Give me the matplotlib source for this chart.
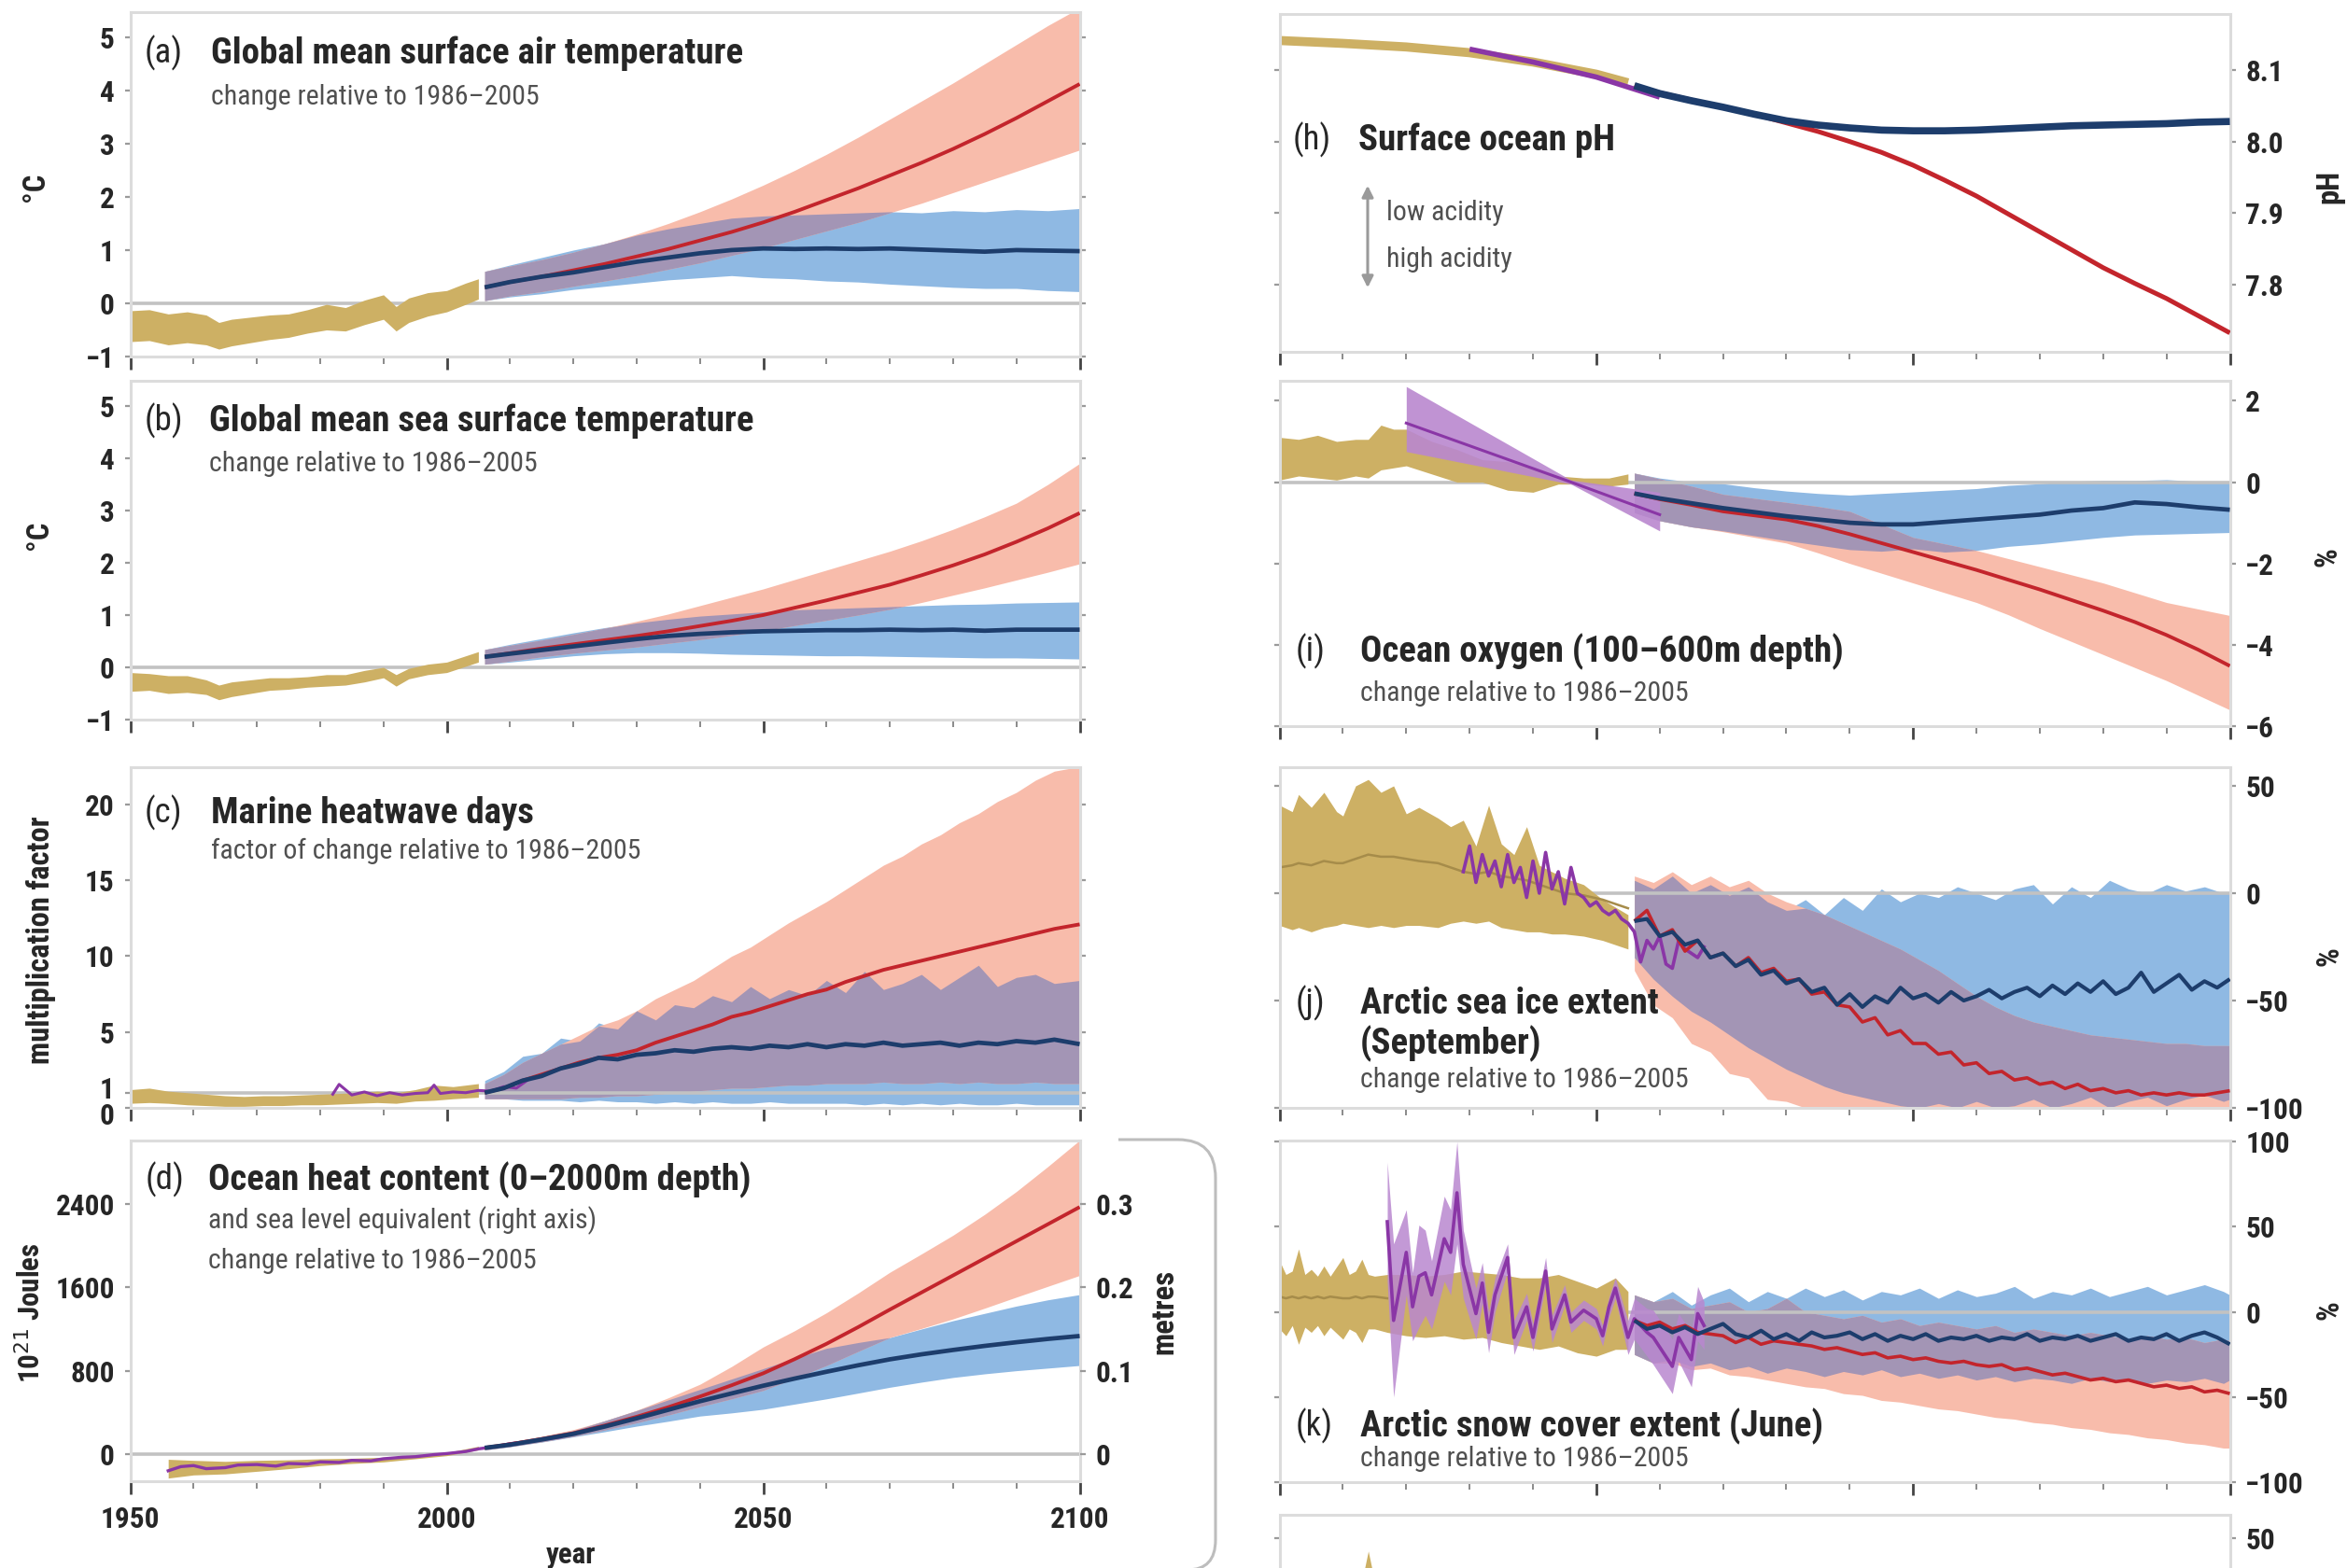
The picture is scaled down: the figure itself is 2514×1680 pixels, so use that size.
import numpy as np
import matplotlib
matplotlib.use("Agg")
import matplotlib.pyplot as plt
from matplotlib import font_manager as fm
from matplotlib.patches import PathPatch, FancyArrowPatch
from matplotlib.path import Path
from matplotlib.ticker import MultipleLocator
from matplotlib.transforms import ScaledTranslation


def choose_font():
    entries = fm.fontManager.ttflist
    names = {f.name for f in entries}
    for n, w in [('Liberation Sans Narrow', 0.76), ('Roboto Condensed', 0.75),
                 ('Open Sans Condensed', 0.78), ('Noto Sans Condensed', 0.80),
                 ('DejaVu Sans Condensed', 0.88)]:
        if n in names:
            return n, 'normal', w
    for n, w in [('Roboto', 0.75), ('Noto Sans', 0.80), ('Open Sans', 0.80), ('DejaVu Sans', 0.88)]:
        for f in entries:
            if f.name == n and f.stretch in ('condensed', 'semi-condensed', 'extra-condensed'):
                return n, f.stretch, w
    return 'DejaVu Sans', 'normal', 1.0


FONT, STRETCH, WF = choose_font()
plt.rcParams['font.family'] = [FONT, 'DejaVu Sans']
plt.rcParams['font.stretch'] = STRETCH
if WF <= 0.8:
    TITLE_SIZE, SUB_SIZE, YLAB_SIZE, TICK_SIZE = 28.0, 21.5, 23.5, 22.5
elif WF < 0.95:
    TITLE_SIZE, SUB_SIZE, YLAB_SIZE, TICK_SIZE = 24.0, 19.5, 21.0, 21.0
else:
    TITLE_SIZE, SUB_SIZE, YLAB_SIZE, TICK_SIZE = 20.0, 18.0, 17.6, 20.0

# ---------------------------------------------------------------- data
P = [2006, 2010, 2015, 2020, 2025, 2030, 2035, 2040, 2045, 2050,
     2055, 2060, 2065, 2070, 2075, 2080, 2085, 2090, 2095, 2100]

# (a) global mean surface air temperature (deg C)
a_obs_years = [1950, 1953, 1956, 1959, 1962, 1964, 1966, 1969, 1972, 1975, 1978,
               1981, 1984, 1987, 1990, 1992, 1994, 1997, 2000, 2003, 2005]
a_obs_lo = [-0.72, -0.70, -0.78, -0.74, -0.78, -0.86, -0.80, -0.74, -0.68, -0.64, -0.56,
            -0.50, -0.52, -0.40, -0.30, -0.52, -0.36, -0.24, -0.16, -0.02, 0.08]
a_obs_hi = [-0.14, -0.12, -0.20, -0.16, -0.22, -0.36, -0.30, -0.26, -0.22, -0.20, -0.12,
            -0.02, -0.08, 0.06, 0.16, -0.06, 0.10, 0.20, 0.24, 0.38, 0.46]
a_rcp26_mid = [0.30, 0.40, 0.50, 0.58, 0.68, 0.78, 0.86, 0.94, 1.00, 1.03,
               1.02, 1.03, 1.02, 1.03, 1.01, 0.99, 0.97, 1.00, 0.99, 0.98]
a_rcp26_lo = [0.05, 0.12, 0.18, 0.26, 0.32, 0.38, 0.44, 0.48, 0.52, 0.48,
              0.46, 0.42, 0.40, 0.36, 0.33, 0.30, 0.28, 0.28, 0.24, 0.22]
a_rcp26_hi = [0.60, 0.72, 0.86, 1.00, 1.12, 1.28, 1.40, 1.50, 1.60, 1.64,
              1.66, 1.68, 1.70, 1.72, 1.70, 1.74, 1.72, 1.76, 1.74, 1.78]
a_rcp85_mid = [0.30, 0.40, 0.50, 0.62, 0.74, 0.88, 1.02, 1.18, 1.34, 1.52,
               1.72, 1.94, 2.16, 2.40, 2.64, 2.90, 3.18, 3.48, 3.80, 4.12]
a_rcp85_lo = [0.05, 0.14, 0.22, 0.32, 0.42, 0.52, 0.64, 0.76, 0.90, 1.04,
              1.20, 1.36, 1.52, 1.70, 1.88, 2.08, 2.28, 2.48, 2.68, 2.88]
a_rcp85_hi = [0.60, 0.70, 0.82, 0.96, 1.12, 1.30, 1.50, 1.72, 1.96, 2.22,
              2.50, 2.80, 3.12, 3.46, 3.80, 4.14, 4.50, 4.86, 5.22, 5.55]

# (b) global mean sea surface temperature (deg C)
b_obs_years = a_obs_years
b_obs_lo = [-0.46, -0.44, -0.50, -0.48, -0.52, -0.62, -0.56, -0.50, -0.44, -0.42, -0.38,
            -0.36, -0.34, -0.28, -0.20, -0.36, -0.22, -0.14, -0.10, 0.02, 0.10]
b_obs_hi = [-0.10, -0.12, -0.16, -0.16, -0.24, -0.34, -0.28, -0.24, -0.20, -0.20, -0.18,
            -0.14, -0.14, -0.06, 0.00, -0.14, -0.02, 0.06, 0.10, 0.22, 0.30]
b_rcp26_mid = [0.20, 0.26, 0.33, 0.40, 0.47, 0.54, 0.60, 0.64, 0.67, 0.69,
               0.70, 0.71, 0.71, 0.72, 0.71, 0.72, 0.70, 0.72, 0.72, 0.72]
b_rcp26_lo = [0.06, 0.10, 0.16, 0.22, 0.26, 0.28, 0.28, 0.27, 0.25, 0.24,
              0.23, 0.22, 0.22, 0.21, 0.20, 0.19, 0.18, 0.18, 0.17, 0.16]
b_rcp26_hi = [0.34, 0.44, 0.55, 0.66, 0.76, 0.85, 0.92, 0.98, 1.02, 1.06,
              1.10, 1.12, 1.14, 1.16, 1.18, 1.20, 1.21, 1.23, 1.24, 1.25]
b_rcp85_mid = [0.20, 0.27, 0.36, 0.44, 0.52, 0.60, 0.69, 0.79, 0.89, 1.00,
               1.14, 1.28, 1.43, 1.58, 1.76, 1.95, 2.16, 2.40, 2.66, 2.95]
b_rcp85_lo = [0.06, 0.12, 0.20, 0.27, 0.33, 0.39, 0.46, 0.53, 0.61, 0.70,
              0.80, 0.90, 1.00, 1.11, 1.24, 1.38, 1.52, 1.67, 1.82, 1.98]
b_rcp85_hi = [0.34, 0.42, 0.52, 0.63, 0.75, 0.88, 1.02, 1.18, 1.34, 1.50,
              1.68, 1.86, 2.04, 2.22, 2.42, 2.64, 2.88, 3.14, 3.50, 3.90]

# (c) marine heatwave days (multiplication factor)
c_obs_years = [1950, 1953, 1956, 1959, 1962, 1965, 1968, 1971, 1974, 1977,
               1980, 1983, 1986, 1989, 1992, 1995, 1998, 2001, 2005]
c_obs_lo = [0.3, 0.35, 0.3, 0.2, 0.15, 0.1, 0.1, 0.15, 0.15, 0.2,
            0.2, 0.25, 0.3, 0.35, 0.3, 0.45, 0.5, 0.6, 0.7]
c_obs_hi = [1.2, 1.3, 1.1, 1.0, 0.9, 0.8, 0.75, 0.8, 0.8, 0.85,
            0.9, 0.95, 1.0, 1.1, 1.0, 1.2, 1.5, 1.4, 1.6]
c_pur_years = [1982, 1983, 1985, 1987, 1989, 1991, 1993, 1995, 1997, 1998,
               1999, 2001, 2003, 2005, 2007, 2009, 2011, 2013]
c_pur_vals = [0.9, 1.55, 0.85, 1.05, 0.8, 1.0, 0.85, 0.95, 1.0, 1.5,
              0.95, 1.05, 1.0, 1.15, 1.1, 1.4, 1.3, 1.9]
c_years = [2006, 2009, 2012, 2015, 2018, 2021, 2024, 2027, 2030, 2033, 2036,
           2039, 2042, 2045, 2048, 2051, 2054, 2057, 2060, 2063, 2066, 2069,
           2072, 2075, 2078, 2081, 2084, 2087, 2090, 2093, 2096, 2100]
c_rcp26_mid = [1.0, 1.3, 1.8, 2.1, 2.6, 2.9, 3.3, 3.2, 3.5, 3.6,
               3.8, 3.7, 3.9, 4.0, 3.9, 4.1, 4.0, 4.2, 4.0, 4.2,
               4.1, 4.3, 4.1, 4.2, 4.3, 4.1, 4.3, 4.2, 4.4, 4.3, 4.5, 4.2]
c_rcp26_lo = [0.6, 0.6, 0.5, 0.5, 0.5, 0.4, 0.5, 0.4, 0.4, 0.3,
              0.4, 0.3, 0.4, 0.3, 0.3, 0.4, 0.3, 0.3, 0.3, 0.3,
              0.2, 0.3, 0.2, 0.3, 0.2, 0.3, 0.2, 0.2, 0.3, 0.2, 0.2, 0.2]
c_rcp26_hi = [1.8, 2.4, 3.4, 3.6, 4.6, 4.4, 5.6, 5.2, 6.4, 5.8,
              6.8, 6.6, 7.4, 7.0, 8.0, 7.2, 7.8, 7.4, 8.4, 7.6,
              9.0, 7.8, 8.2, 8.8, 7.8, 8.6, 9.4, 8.0, 8.6, 8.8, 8.2, 8.4]
c_rcp85_mid = [1.0, 1.3, 1.8, 2.2, 2.6, 3.0, 3.3, 3.5, 3.8, 4.3,
               4.7, 5.1, 5.5, 6.0, 6.3, 6.7, 7.1, 7.5, 7.8, 8.3,
               8.7, 9.1, 9.4, 9.7, 10.0, 10.3, 10.6, 10.9, 11.2, 11.5, 11.8, 12.1]
c_rcp85_lo = [0.6, 0.6, 0.6, 0.6, 0.6, 0.7, 0.7, 0.8, 0.8, 0.9,
              1.0, 1.1, 1.2, 1.3, 1.3, 1.4, 1.5, 1.5, 1.6, 1.6,
              1.6, 1.7, 1.6, 1.6, 1.7, 1.6, 1.7, 1.6, 1.6, 1.7, 1.6, 1.6]
c_rcp85_hi = [1.6, 2.2, 3.0, 3.6, 4.2, 4.8, 5.4, 5.8, 6.4, 7.2,
              7.8, 8.4, 9.2, 10.0, 10.6, 11.4, 12.2, 12.9, 13.6, 14.4,
              15.2, 16.0, 16.6, 17.4, 18.0, 18.8, 19.4, 20.2, 20.8, 21.6, 22.2, 22.5]

# (d) ocean heat content 0-2000 m (10^21 J)
d_obs_years = [1956, 1960, 1965, 1970, 1975, 1980, 1985, 1990, 1995, 2000, 2005]
d_obs_lo = [-230, -200, -190, -165, -140, -110, -90, -75, -45, -15, 40]
d_obs_hi = [-50, -60, -70, -60, -55, -45, -40, -30, -10, 15, 75]
d_pur_years = [1956, 1958, 1960, 1962, 1965, 1967, 1970, 1973, 1975, 1978, 1980, 1983, 1985,
               1988, 1990, 1993, 1995, 1998, 2000, 2003, 2005, 2008, 2010, 2013, 2015, 2018]
d_pur_vals = [-160, -120, -110, -140, -130, -105, -100, -115, -90, -95, -75, -80, -60,
              -65, -45, -30, -25, -5, 5, 25, 50, 75, 100, 120, 140, 165]
d_rcp26_mid = [60, 90, 140, 194, 265, 343, 425, 507, 582, 656,
               725, 790, 852, 909, 957, 999, 1038, 1073, 1105, 1133]
d_rcp26_lo = [40, 70, 115, 165, 215, 268, 315, 365, 395, 430,
              480, 530, 585, 641, 690, 735, 770, 800, 825, 850]
d_rcp26_hi = [80, 110, 165, 225, 320, 417, 520, 620, 720, 820,
              920, 1015, 1070, 1118, 1200, 1280, 1350, 1420, 1480, 1530]
d_rcp85_mid = [60, 95, 145, 200, 275, 358, 450, 552, 660, 775,
               912, 1058, 1218, 1386, 1550, 1714, 1878, 2042, 2206, 2370]
d_rcp85_lo = [40, 72, 118, 170, 232, 300, 375, 455, 530, 611,
              728, 850, 985, 1118, 1205, 1297, 1400, 1506, 1610, 1714]
d_rcp85_hi = [80, 115, 170, 235, 320, 420, 540, 670, 840, 1028,
              1185, 1356, 1545, 1744, 1920, 2100, 2300, 2519, 2760, 3011]
d_joules_per_metre = 8000.0

# (h) surface ocean pH
h_obs_years = [1950, 1960, 1970, 1980, 1990, 2000, 2005]
h_obs_vals = [8.141, 8.137, 8.132, 8.124, 8.111, 8.094, 8.082]
h_pur_years = [1980, 1990, 2000, 2010]
h_pur_vals = [8.129, 8.111, 8.090, 8.062]
h_rcp26_mid = [8.078, 8.067, 8.057, 8.048, 8.038, 8.029, 8.023, 8.019, 8.016, 8.015,
               8.015, 8.016, 8.018, 8.020, 8.022, 8.023, 8.024, 8.025, 8.027, 8.028]
h_rcp85_mid = [8.078, 8.068, 8.058, 8.048, 8.038, 8.026, 8.014, 8.000, 7.985, 7.967,
               7.946, 7.924, 7.899, 7.874, 7.849, 7.824, 7.802, 7.781, 7.757, 7.733]

# (i) ocean oxygen 100-600 m (%)
i_obs_years = [1950, 1953, 1956, 1959, 1962, 1964, 1966, 1968, 1970,
               1974, 1978, 1982, 1986, 1990, 1994, 1998, 2002, 2005]
i_obs_lo = [0.05, 0.15, 0.10, 0.05, 0.15, 0.10, 0.30, 0.35, 0.40,
            0.20, 0.0, 0.0, -0.20, -0.25, -0.05, -0.05, -0.10, -0.05]
i_obs_hi = [1.10, 1.05, 1.15, 1.00, 1.05, 1.05, 1.40, 1.30, 1.30,
            1.00, 0.80, 0.55, 0.50, 0.35, 0.15, 0.10, 0.10, 0.20]
i_pur_years = [1970, 1996, 2010]
i_pur_mid = [1.45, 0.0, -0.80]
i_pur_lo = [0.75, -0.05, -1.20]
i_pur_hi = [2.35, 0.05, -0.25]
i_rcp26_mid = [-0.28, -0.40, -0.52, -0.64, -0.74, -0.84, -0.92, -1.00, -1.04, -1.04,
               -0.98, -0.92, -0.86, -0.80, -0.70, -0.64, -0.50, -0.54, -0.62, -0.68]
i_rcp26_lo = [-0.75, -0.95, -1.10, -1.20, -1.32, -1.44, -1.55, -1.66, -1.70, -1.64,
              -1.72, -1.68, -1.58, -1.52, -1.44, -1.36, -1.30, -1.28, -1.26, -1.24]
i_rcp26_hi = [0.22, 0.10, 0.0, -0.04, -0.14, -0.22, -0.28, -0.32, -0.28, -0.24,
              -0.20, -0.16, -0.08, -0.04, 0.02, 0.04, 0.04, 0.06, 0.02, 0.0]
i_rcp85_mid = [-0.28, -0.42, -0.56, -0.72, -0.82, -0.92, -1.08, -1.28, -1.50, -1.72,
               -1.94, -2.16, -2.40, -2.64, -2.90, -3.16, -3.44, -3.76, -4.12, -4.52]
i_rcp85_lo = [-0.75, -0.95, -1.10, -1.22, -1.36, -1.50, -1.74, -2.00, -2.24, -2.48,
              -2.72, -2.96, -3.26, -3.60, -3.92, -4.24, -4.56, -4.88, -5.24, -5.60]
i_rcp85_hi = [0.22, 0.08, -0.10, -0.30, -0.40, -0.50, -0.60, -0.72, -1.04, -1.36,
              -1.52, -1.68, -1.88, -2.08, -2.28, -2.48, -2.72, -2.96, -3.12, -3.28]

# (j) Arctic sea ice extent, September (%)
j_obs_years = [1950, 1952, 1953, 1955, 1957, 1959, 1960, 1962, 1964, 1966, 1968, 1970, 1972, 1975,
               1977, 1979, 1981, 1983, 1985, 1987, 1989, 1991, 1993, 1995, 1998, 2001, 2005]
j_obs_hi = [41, 38, 46, 40, 47, 38, 36, 50, 53, 47, 50, 37, 40, 35,
            31, 34, 22, 41, 23, 18, 31, 13, 10, 7, 4, -3, -10]
j_obs_lo = [-15, -17, -16, -18, -16, -15, -14, -15, -16, -15, -16, -15, -15, -16,
            -14, -13, -14, -13, -16, -17, -18, -18, -19, -19, -20, -22, -26]
j_obs_mid = [12, 13, 14, 13, 15, 14, 14, 16, 18, 17, 17, 16, 15, 14,
             12, 10, 9, 10, 8, 7, 6, 4, 2, 0, -1, -3, -7]
j_pur_years = [1979, 1980, 1981, 1982, 1983, 1984, 1985, 1986, 1987, 1988, 1989, 1990, 1991,
               1992, 1993, 1994, 1995, 1996, 1997, 1998, 1999, 2000, 2001, 2002, 2003, 2004,
               2005, 2006, 2007, 2008, 2009, 2010, 2011, 2012, 2013, 2014, 2015, 2016, 2017]
j_pur_vals = [10, 22, 5, 18, 8, 15, 3, 18, 5, 12, -2, 15, 0,
              19, 2, 10, -5, 12, 0, -2, -6, -4, -8, -10, -8, -12,
              -14, -18, -32, -22, -26, -20, -33, -35, -22, -26, -28, -30, -25]
j_line_years = list(range(2006, 2101, 2))
j_rcp85_mid = [-13, -8, -20, -17, -27, -22, -30, -28, -34, -30, -37, -35, -41, -40, -47, -46,
               -52, -53, -60, -58, -66, -64, -70, -70, -75, -74, -80, -79, -84, -83, -87, -86,
               -89, -88, -91, -89, -92, -91, -93, -92, -94, -93, -94, -93, -94, -94, -93, -92]
j_rcp26_mid = [-13, -12, -20, -18, -24, -22, -30, -28, -34, -31, -38, -36, -42, -40, -46, -44,
               -52, -47, -53, -48, -51, -44, -49, -47, -51, -46, -50, -48, -45, -49, -46, -44,
               -48, -43, -47, -42, -46, -41, -47, -44, -37, -46, -42, -38, -45, -41, -44, -40]
j_band_years = list(range(2006, 2100, 3)) + [2100]
j_rcp26_hi = [6, 2, 8, 0, 4, -1, 3, -4, -8, -3, -10, -2, -8, 2, -4, 0, -2, 3, 0, -3,
              2, 4, -5, 3, -2, 6, 2, 0, 4, 1, 3, 0, 0]
j_rcp26_lo = [-30, -40, -48, -55, -60, -66, -72, -77, -82, -86, -90, -93, -95, -97, -99, -100,
              -98, -100, -97, -100, -99, -96, -100, -98, -95, -100, -97, -95, -99, -96, -94, -97, -96]
j_rcp85_hi = [8, 5, 10, 4, 8, 3, 6, 0, -4, -7, -10, -14, -18, -22, -26, -31,
              -36, -42, -48, -53, -57, -60, -62, -64, -66, -67, -68, -69, -70, -70, -71, -71, -71]
j_rcp85_lo = [-36, -52, -58, -70, -74, -84, -86, -96, -97, -100, -100, -100, -100, -100, -100,
              -100, -100, -100, -100, -100, -100, -100, -100, -100, -100, -100, -100, -100,
              -100, -100, -100, -100, -100]

# (k) Arctic snow cover extent, June (%)
k_obs_years = [1950, 1951, 1952, 1953, 1954, 1955, 1956, 1957, 1958, 1960, 1961, 1962, 1963, 1964,
               1965, 1967, 1970, 1973, 1976, 1979, 1982, 1985, 1988, 1991, 1994, 1997, 2000, 2003, 2005]
k_obs_hi = [30, 22, 24, 37, 22, 25, 21, 27, 21, 32, 22, 24, 31, 22,
            21, 22, 22, 21, 22, 24, 23, 22, 20, 20, 22, 18, 14, 20, 12]
k_obs_lo = [-10, -14, -8, -19, -9, -12, -8, -14, -9, -16, -10, -12, -18, -10,
            -10, -12, -14, -15, -14, -16, -15, -18, -20, -22, -20, -24, -26, -22, -22]
k_obs_mid = [9, 8, 9, 8, 9, 8, 9, 8, 9, 8, 8, 9, 8, 9,
             9, 8, 7, 6, 5, 4, 3, 2, 1, 0, -1, -2, -3, -3, -4]
k_pur_years = [1967, 1968, 1970, 1971, 1972, 1973, 1974, 1976, 1977, 1978, 1979, 1981, 1982,
               1983, 1984, 1986, 1987, 1989, 1990, 1992, 1993, 1995, 1996, 1998, 2000, 2001,
               2002, 2003, 2005, 2006, 2008, 2009, 2012, 2013, 2015, 2016, 2017]
k_pur_vals = [53, -5, 35, 3, 21, 23, 10, 43, 35, 70, 28, -1, 17,
              -12, 10, 32, -15, 3, -15, 24, -10, 10, -6, 1, -4, -14,
              3, 14, -15, -4, -12, -15, -32, -15, -28, -1, -8]
k_pur_halfwidth = [35, 45, 25, 20, 30, 25, 20, 25, 25, 30, 20, 15, 12,
                   12, 10, 8, 10, 8, 8, 8, 8, 6, 6, 6, 6, 6,
                   6, 6, 10, 12, 14, 16, 16, 14, 16, 16, 14]
k_line_years = list(range(2006, 2101, 2))
k_rcp26_mid = [-5, -10, -8, -12, -9, -13, -10, -7, -13, -15, -11, -16, -13, -17, -12, -15,
               -14, -12, -16, -13, -17, -14, -16, -13, -17, -15, -16, -14, -17, -15, -16, -13,
               -17, -15, -16, -14, -17, -15, -13, -17, -15, -16, -13, -17, -14, -12, -15, -19]
k_rcp85_mid = [-5, -8, -6, -10, -8, -12, -13, -14, -18, -15, -19, -17, -18, -19, -20, -22,
               -21, -23, -25, -24, -27, -26, -28, -27, -29, -30, -29, -31, -32, -31, -34, -33,
               -35, -37, -36, -38, -40, -39, -41, -40, -42, -44, -43, -45, -44, -47, -46, -48]
k_band_years = list(range(2006, 2100, 3)) + [2100]
k_rcp26_hi = [10, 6, 12, 4, 10, 14, 6, 12, 8, 14, 9, 13, 7, 12, 10, 14, 8, 13, 9, 11,
              15, 8, 12, 10, 14, 9, 12, 15, 10, 13, 16, 12, 10]
k_rcp26_lo = [-25, -30, -28, -32, -30, -34, -32, -36, -33, -35, -38, -35, -37, -34, -38, -36,
              -39, -37, -40, -38, -41, -39, -40, -42, -39, -41, -40, -42, -40, -41, -39, -42, -40]
k_rcp85_hi = [10, 6, 8, 2, 4, 6, 0, 2, 8, 0, -2, -4, -2, -6, -4, -8, -6, -8, -10, -8,
              -12, -10, -12, -14, -12, -14, -16, -14, -16, -15, -18, -16, -17]
k_rcp85_lo = [-25, -30, -30, -34, -33, -37, -38, -40, -42, -44, -45, -48, -49, -52, -53, -55,
              -57, -58, -60, -62, -63, -65, -66, -68, -69, -71, -72, -74, -75, -77, -78, -80, -80]

# (l) partially visible panel
l_obs_years = [1950, 1955, 1960, 1962, 1963, 1964, 1965, 1966, 1970]
l_obs_hi = [20, 22, 20, 24, 30, 44, 30, 22, 20]
l_obs_lo = [-20, -22, -20, -22, -20, -22, -20, -22, -20]

# ---------------------------------------------------------------- style
W, H = 2514, 1680
fig = plt.figure(figsize=(W / 100, H / 100), dpi=100)
fig.patch.set_facecolor('white')

C_TAN = '#CDB064'
C_TAN_LINE = '#A68C4A'
C_PUR = '#8A36A6'
C_PUR_BAND = '#B987CF'
C_RED = '#C3252C'
C_PINK = '#F8BCAB'
C_BLUE = '#1D3D6C'
C_LBLUE = '#8FB9E3'
C_MAUVE = '#A395B5'
C_ZERO = '#C2C2C2'
C_FRAME = '#DCDCDC'
C_TXT = '#262626'
C_SUB = '#505050'

LX0, LX1 = 139.5, 1156.5
RX0, RX1 = 1370.6, 2388.5


def add_ax(x0, x1, ytop, ybot):
    return fig.add_axes([x0 / W, 1 - ybot / H, (x1 - x0) / W, (ybot - ytop) / H])


def bold_labels(labels):
    for lab in labels:
        lab.set_fontweight('bold')


def style(ax, ylim, yticks, side, ylabels=None):
    ax.set_xlim(1950, 2100)
    ax.set_ylim(*ylim)
    ax.patch.set_alpha(0)
    for s in ax.spines.values():
        s.set_color(C_FRAME)
        s.set_linewidth(2.2)
    ax.set_xticks([1950, 2000, 2050, 2100])
    ax.xaxis.set_minor_locator(MultipleLocator(10))
    ax.tick_params(axis='x', which='major', direction='out', length=10, width=2,
                   color='#444444', labelbottom=False)
    ax.tick_params(axis='x', which='minor', direction='out', length=5.5, width=1.4,
                   color='#8a8a8a')
    ax.set_yticks(yticks)
    if ylabels is not None:
        ax.set_yticklabels(ylabels)
    ax.tick_params(axis='y', which='major', direction='out', length=4, width=1.6,
                   color='#9a9a9a', left=True, right=True,
                   labelleft=(side == 'left'), labelright=(side == 'right'),
                   labelsize=TICK_SIZE, labelcolor=C_TXT, pad=8)
    bold_labels(ax.get_yticklabels())


def proj_bands(ax, x, blo, bhi, rlo, rhi):
    x = np.asarray(x)
    blo, bhi, rlo, rhi = map(np.asarray, (blo, bhi, rlo, rhi))
    ax.fill_between(x, blo, bhi, color=C_LBLUE, lw=0, zorder=1)
    ax.fill_between(x, rlo, rhi, color=C_PINK, lw=0, zorder=1.1)
    olo = np.maximum(blo, rlo)
    ohi = np.minimum(bhi, rhi)
    ax.fill_between(x, olo, ohi, where=ohi > olo, interpolate=True,
                    color=C_MAUVE, lw=0, zorder=1.2)


def proj_lines(ax, x26, m26, x85, m85, lw26=3.4, lw85=2.8):
    ax.plot(x85, m85, color=C_RED, lw=lw85, zorder=4, solid_capstyle='butt')
    ax.plot(x26, m26, color=C_BLUE, lw=lw26, zorder=4.1, solid_capstyle='butt')


def zero(ax, y=0):
    ax.axhline(y, color=C_ZERO, lw=2.6, zorder=1.5)


def ftxt(x, y, s, size=24, weight='bold', color=C_TXT, **kw):
    kw.setdefault('ha', 'left')
    kw.setdefault('va', 'center')
    fig.text(x / W, 1 - y / H, s, fontsize=size, fontweight=weight, color=color, **kw)


def panel_title(xl, xt, y, letter, lines, sub_ys, subs):
    ftxt(xl, y, letter, size=TITLE_SIZE * 0.95, weight='normal')
    for k, line in enumerate(lines):
        ftxt(xt, y + k * 43, line, size=TITLE_SIZE)
    for yy, s in zip(sub_ys, subs):
        ftxt(xt, yy, s, size=SUB_SIZE, weight='normal', color=C_SUB)


def ylab(x, y, s, size=None):
    ftxt(x, y, s, size=size or YLAB_SIZE, rotation=90, ha='center')


# ---------------------------------------------------------------- (a)
ax = add_ax(LX0, LX1, 13, 382)
style(ax, (-1, 5.47), [-1, 0, 1, 2, 3, 4, 5], 'left',
      ['−1', '0', '1', '2', '3', '4', '5'])
zero(ax)
proj_bands(ax, P, a_rcp26_lo, a_rcp26_hi, a_rcp85_lo, a_rcp85_hi)
ax.fill_between(a_obs_years, a_obs_lo, a_obs_hi, color=C_TAN, lw=0, zorder=2)
proj_lines(ax, P, a_rcp26_mid, P, a_rcp85_mid)
panel_title(155, 226, 57, '(a)', ['Global mean surface air temperature'], [104],
            ['change relative to 1986–2005'])
ylab(38, 200, '°C')

# ---------------------------------------------------------------- (b)
ax = add_ax(LX0, LX1, 408, 771)
style(ax, (-1, 5.48), [-1, 0, 1, 2, 3, 4, 5], 'left',
      ['−1', '0', '1', '2', '3', '4', '5'])
zero(ax)
proj_bands(ax, P, b_rcp26_lo, b_rcp26_hi, b_rcp85_lo, b_rcp85_hi)
ax.fill_between(b_obs_years, b_obs_lo, b_obs_hi, color=C_TAN, lw=0, zorder=2)
proj_lines(ax, P, b_rcp26_mid, P, b_rcp85_mid)
panel_title(155, 224, 451, '(b)', ['Global mean sea surface temperature'], [497],
            ['change relative to 1986–2005'])
ylab(42, 573, '°C')

# ---------------------------------------------------------------- (c)
ax = add_ax(LX0, LX1, 822, 1187)
style(ax, (0, 22.46), [0, 1, 5, 10, 15, 20], 'left')
labs = ax.get_yticklabels()
labs[0].set_transform(labs[0].get_transform() + ScaledTranslation(0, -4 / 72, fig.dpi_scale_trans))
labs[1].set_transform(labs[1].get_transform() + ScaledTranslation(0, 4 / 72, fig.dpi_scale_trans))
zero(ax, 1)
proj_bands(ax, c_years, c_rcp26_lo, c_rcp26_hi, c_rcp85_lo, c_rcp85_hi)
ax.fill_between(c_obs_years, c_obs_lo, c_obs_hi, color=C_TAN, lw=0, zorder=2)
ax.plot(c_pur_years, c_pur_vals, color=C_PUR, lw=2.2, zorder=3)
proj_lines(ax, c_years, c_rcp26_mid, c_years, c_rcp85_mid)
panel_title(155, 226, 871, '(c)', ['Marine heatwave days'], [912],
            ['factor of change relative to 1986–2005'])
ylab(44, 1007, 'multiplication factor')

# ---------------------------------------------------------------- (d)
ax = add_ax(LX0, LX1, 1222, 1587)
style(ax, (-260, 3008), [0, 800, 1600, 2400], 'left')
zero(ax)
proj_bands(ax, P, d_rcp26_lo, d_rcp26_hi, d_rcp85_lo, d_rcp85_hi)
ax.fill_between(d_obs_years, d_obs_lo, d_obs_hi, color=C_TAN, lw=0, zorder=2)
ax.plot(d_pur_years, d_pur_vals, color=C_PUR, lw=2.4, zorder=3)
proj_lines(ax, P, d_rcp26_mid, P, d_rcp85_mid)
ax.tick_params(axis='x', which='major', labelbottom=True, labelsize=TICK_SIZE,
               labelcolor=C_TXT, pad=9)
bold_labels(ax.get_xticklabels())
ax2 = ax.twinx()
ax2.set_ylim(-260 / d_joules_per_metre, 3008 / d_joules_per_metre)
ax2.set_yticks([0, 0.1, 0.2, 0.3])
ax2.set_yticklabels(['0', '0.1', '0.2', '0.3'])
for s in ax2.spines.values():
    s.set_visible(False)
ax2.tick_params(axis='y', direction='out', length=4, width=1.6, color='#9a9a9a',
                labelsize=TICK_SIZE, labelcolor=C_TXT, pad=8)
bold_labels(ax2.get_yticklabels())
panel_title(156, 223, 1264, '(d)', ['Ocean heat content (0–2000m depth)'], [1308, 1351],
            ['and sea level equivalent (right axis)', 'change relative to 1986–2005'])
ylab(33, 1407, '10$^{21}$ Joules', size=YLAB_SIZE * 0.95)
ylab(1247, 1405, 'metres')
ftxt(611, 1666, 'year', size=YLAB_SIZE * 0.95, ha='center')

# bracket on the right of panel (d)
verts = [(1198, 1221), (1262, 1221), (1302, 1221), (1302, 1262), (1302, 1650),
         (1302, 1682), (1272, 1682)]
codes = [Path.MOVETO, Path.LINETO, Path.CURVE3, Path.CURVE3, Path.LINETO,
         Path.CURVE3, Path.CURVE3]
verts_f = [(vx / W, 1 - vy / H) for vx, vy in verts]
fig.add_artist(PathPatch(Path(verts_f, codes), facecolor='none', edgecolor='#BDBDBD',
                         lw=2.2, transform=fig.transFigure))

# ---------------------------------------------------------------- (h)
ax = add_ax(RX0, RX1, 15, 377)
style(ax, (7.7065, 8.178), [7.8, 7.9, 8.0, 8.1], 'right', ['7.8', '7.9', '8.0', '8.1'])
ax.plot(h_obs_years, h_obs_vals, color=C_TAN, lw=7, zorder=2, solid_capstyle='butt')
ax.plot(h_pur_years, h_pur_vals, color=C_PUR, lw=4, zorder=3, solid_capstyle='butt')
ax.plot(P, h_rcp85_mid, color=C_RED, lw=3.6, zorder=4, solid_capstyle='butt')
ax.plot(P, h_rcp26_mid, color=C_BLUE, lw=5.5, zorder=4.1, solid_capstyle='butt')
panel_title(1385, 1455, 150, '(h)', ['Surface ocean pH'], [], [])
ftxt(1485, 228, 'low acidity', size=SUB_SIZE, weight='normal', color=C_SUB)
ftxt(1485, 278, 'high acidity', size=SUB_SIZE, weight='normal', color=C_SUB)
fig.add_artist(FancyArrowPatch((1465 / W, 1 - 196 / H), (1465 / W, 1 - 311 / H),
                               arrowstyle='<|-|>', mutation_scale=18, color='#9a9a9a',
                               lw=2.2, transform=fig.transFigure))
ylab(2495, 200, 'pH')

# ---------------------------------------------------------------- (i)
ax = add_ax(RX0, RX1, 408, 778)
style(ax, (-6, 2.49), [-6, -4, -2, 0, 2], 'right', ['−6', '−4', '−2', '0', '2'])
zero(ax)
proj_bands(ax, P, i_rcp26_lo, i_rcp26_hi, i_rcp85_lo, i_rcp85_hi)
ax.fill_between(i_obs_years, i_obs_lo, i_obs_hi, color=C_TAN, lw=0, zorder=2)
ax.fill_between(i_pur_years, i_pur_lo, i_pur_hi, color=C_PUR_BAND, lw=0, zorder=2.5, alpha=0.9)
ax.plot(i_pur_years, i_pur_mid, color=C_PUR, lw=2.2, zorder=3)
proj_lines(ax, P, i_rcp26_mid, P, i_rcp85_mid)
panel_title(1388, 1457, 698, '(i)', ['Ocean oxygen (100–600m depth)'], [743],
            ['change relative to 1986–2005'])
ylab(2493, 597, '%')

# ---------------------------------------------------------------- (j)
ax = add_ax(RX0, RX1, 822, 1187)
style(ax, (-100, 58.7), [-100, -50, 0, 50], 'right', ['−100', '−50', '0', '50'])
zero(ax)
proj_bands(ax, j_band_years, j_rcp26_lo, j_rcp26_hi, j_rcp85_lo, j_rcp85_hi)
ax.fill_between(j_obs_years, j_obs_lo, j_obs_hi, color=C_TAN, lw=0, zorder=2)
ax.plot(j_obs_years, j_obs_mid, color=C_TAN_LINE, lw=1.8, zorder=2.2)
ax.plot(j_pur_years, j_pur_vals, color=C_PUR, lw=2.6, zorder=3)
proj_lines(ax, j_line_years, j_rcp26_mid, j_line_years, j_rcp85_mid, lw26=3.0, lw85=2.6)
panel_title(1388, 1457, 1075, '(j)', ['Arctic sea ice extent', '(September)'], [1157],
            ['change relative to 1986–2005'])
ylab(2496, 1025, '%')

# ---------------------------------------------------------------- (k)
ax = add_ax(RX0, RX1, 1222, 1588)
style(ax, (-100, 100.7), [-100, -50, 0, 50, 100], 'right',
      ['−100', '−50', '0', '50', '100'])
zero(ax)
proj_bands(ax, k_band_years, k_rcp26_lo, k_rcp26_hi, k_rcp85_lo, k_rcp85_hi)
ax.fill_between(k_obs_years, k_obs_lo, k_obs_hi, color=C_TAN, lw=0, zorder=2)
ax.plot(k_obs_years[:16], k_obs_mid[:16], color=C_TAN_LINE, lw=1.8, zorder=2.2)
k_pv = np.asarray(k_pur_vals, dtype=float)
k_pw = np.asarray(k_pur_halfwidth, dtype=float)
ax.fill_between(k_pur_years, k_pv - k_pw, k_pv + k_pw, color=C_PUR_BAND, lw=0,
                zorder=2.5, alpha=0.85)
ax.plot(k_pur_years, k_pur_vals, color=C_PUR, lw=2.6, zorder=3)
proj_lines(ax, k_line_years, k_rcp26_mid, k_line_years, k_rcp85_mid, lw26=3.0, lw85=2.6)
panel_title(1388, 1457, 1528, '(k)', ['Arctic snow cover extent (June)'], [1563],
            ['change relative to 1986–2005'])
ylab(2496, 1404, '%')

# ---------------------------------------------------------------- (l) partial
ax = add_ax(RX0, RX1, 1623, 1993)
style(ax, (-100, 60.9), [50], 'right', ['50'])
ax.fill_between(l_obs_years, l_obs_lo, l_obs_hi, color=C_TAN, lw=0, zorder=2)

fig.savefig('out.png', dpi=100, facecolor='white')
